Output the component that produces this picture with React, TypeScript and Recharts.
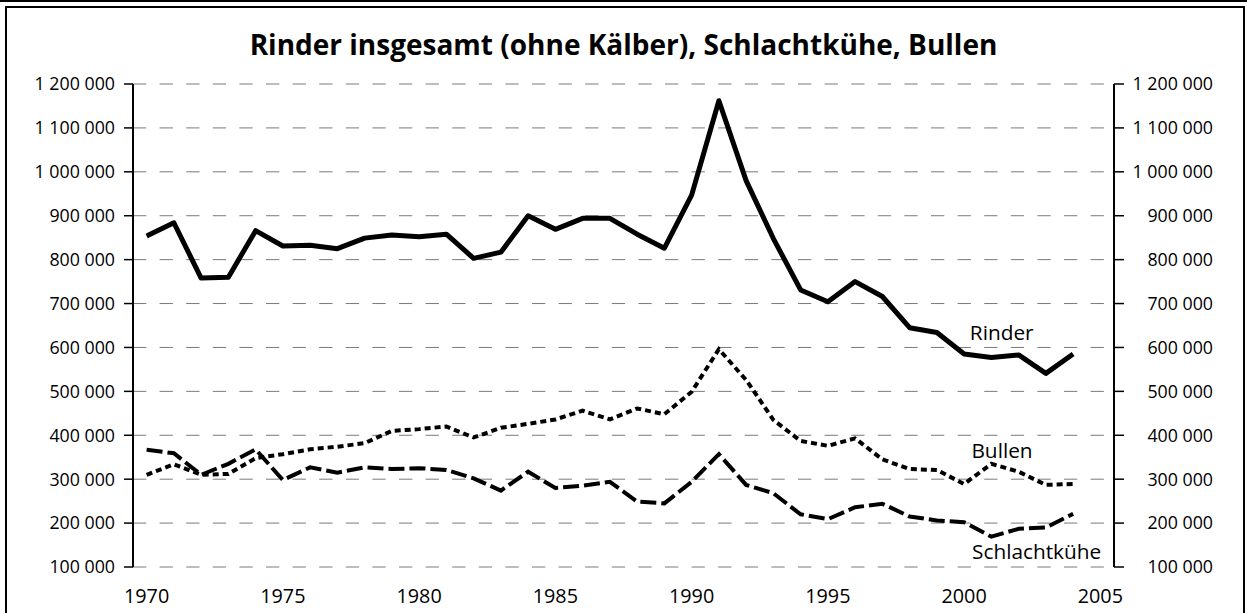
import React from 'react';
import { LineChart, Line, XAxis, YAxis, CartesianGrid, ReferenceDot } from 'recharts';

// Categories (2005 is an empty category on the axis)
const axisYears = [1970, 1971, 1972, 1973, 1974, 1975, 1976, 1977, 1978, 1979, 1980, 1981, 1982, 1983, 1984, 1985, 1986, 1987, 1988, 1989, 1990, 1991, 1992, 1993, 1994, 1995, 1996, 1997, 1998, 1999, 2000, 2001, 2002, 2003, 2004, 2005];
const dataYears = axisYears.slice(0, 35);
const xLabelTicks = [1970, 1975, 1980, 1985, 1990, 1995, 2000, 2005];
const yTicks = [100000, 200000, 300000, 400000, 500000, 600000, 700000, 800000, 900000, 1000000, 1100000, 1200000];

const rinder = [854000, 884000, 758000, 760000, 866000, 831000, 833000, 825000, 849000, 856000, 852000, 858000, 803000, 817000, 900000, 869000, 894000, 894000, 858000, 826000, 947000, 1162000, 980000, 848000, 731000, 704000, 750000, 716000, 645000, 634000, 585000, 577000, 583000, 541000, 585000];
const bullen = [310000, 334000, 310000, 312000, 348000, 357000, 368000, 374000, 382000, 410000, 414000, 420000, 395000, 417000, 426000, 436000, 456000, 436000, 461000, 448000, 499000, 596000, 526000, 435000, 387000, 376000, 393000, 345000, 323000, 321000, 289000, 335000, 317000, 287000, 289000];
const schlachtkuehe = [367000, 359000, 310000, 335000, 368000, 298000, 327000, 315000, 327000, 323000, 325000, 321000, 302000, 274000, 317000, 280000, 285000, 294000, 249000, 245000, 294000, 357000, 287000, 268000, 220000, 209000, 236000, 244000, 215000, 206000, 202000, 169000, 187000, 190000, 221000];

const title = 'Rinder insgesamt (ohne Kälber), Schlachtkühe, Bullen';
const seriesLabels = [
  { text: 'Rinder', year: 2001.38, value: 633000 },
  { text: 'Bullen', year: 2001.39, value: 366000 },
  { text: 'Schlachtkühe', year: 2002.66, value: 134000 },
];

const data = dataYears.map((y, i) => ({ year: y, rinder: rinder[i], bullen: bullen[i], kuehe: schlachtkuehe[i] }));
const boundaries = axisYears.map((y) => y - 0.5).concat([axisYears[axisYears.length - 1] + 0.5]);
const xDomain = [boundaries[0], boundaries[boundaries.length - 1]];

const FONT = 'Open Sans';
const fmt = (n: number) => String(n).replace(/\B(?=(\d{3})+(?!\d))/g, ' ');

const RightTick = (props: any) => {
  const { x, y, payload } = props;
  return (
    <text x={x + 81} y={y} dy="0.355em" textAnchor="end" fontFamily={FONT} fontSize={17.8} fill="#000">
      {fmt(payload.value)}
    </text>
  );
};

export default function App() {
  return (
    <div style={{ position: 'absolute', left: 0, top: 0, width: 1247, height: 613, overflow: 'hidden', background: '#fff' }}>
      <div style={{ position: 'absolute', left: 0, top: 0, width: 1247, height: 2, background: '#000' }} />
      <div style={{ position: 'absolute', left: 5, top: 6, width: 1240, height: 700, border: '2px solid #000', boxSizing: 'border-box' }} />
      <div style={{ position: 'absolute', left: 0, top: 29, width: 1247, textAlign: 'center', fontFamily: FONT, fontWeight: 'bold', fontSize: 28, lineHeight: '30px', color: '#000' }}>
        {title}
      </div>
      <div style={{ position: 'absolute', left: 0, top: 0 }}>
        <LineChart width={1247} height={613} data={data} margin={{ top: 84, right: 0, bottom: 0, left: 0 }}>
          <CartesianGrid xAxisId="ticks" yAxisId="left" vertical={false} stroke="#7a7a7a" strokeDasharray="13.3 13.3" />
          <XAxis
            xAxisId="ticks"
            dataKey="year"
            type="number"
            domain={xDomain}
            ticks={boundaries}
            interval={0}
            tick={false}
            tickSize={10}
            height={0}
            stroke="#000"
            axisLine={{ stroke: '#000', strokeWidth: 1.5 }}
            tickLine={{ stroke: '#000', strokeWidth: 1.5 }}
          />
          <XAxis
            xAxisId="labels"
            dataKey="year"
            type="number"
            domain={xDomain}
            ticks={xLabelTicks}
            interval={0}
            axisLine={false}
            tickLine={false}
            tickSize={0}
            tickMargin={22}
            height={46}
            tick={{ fontFamily: FONT, fontSize: 19.8, fill: '#000' }}
          />
          <YAxis
            yAxisId="left"
            type="number"
            domain={[100000, 1200000]}
            ticks={yTicks}
            interval={0}
            allowDataOverflow
            width={133}
            tickSize={9}
            tickMargin={9}
            tickFormatter={fmt}
            axisLine={{ stroke: '#000', strokeWidth: 2 }}
            tickLine={{ stroke: '#000', strokeWidth: 1.5 }}
            tick={{ fontFamily: FONT, fontSize: 17.8, fill: '#000' }}
          />
          <YAxis
            yAxisId="right"
            orientation="right"
            type="number"
            domain={[100000, 1200000]}
            ticks={yTicks}
            interval={0}
            allowDataOverflow
            width={133}
            tickSize={10}
            tickMargin={8}
            axisLine={{ stroke: '#000', strokeWidth: 2 }}
            tickLine={{ stroke: '#000', strokeWidth: 1.5 }}
            tick={<RightTick />}
          />
          <Line xAxisId="ticks" yAxisId="left" type="linear" dataKey="rinder" stroke="#000" strokeWidth={5} dot={false} isAnimationActive={false} strokeLinejoin="round" />
          <Line xAxisId="ticks" yAxisId="left" type="linear" dataKey="bullen" stroke="#000" strokeWidth={4} strokeDasharray="6 4" dot={false} isAnimationActive={false} />
          <Line xAxisId="ticks" yAxisId="left" type="linear" dataKey="kuehe" stroke="#000" strokeWidth={4} strokeDasharray="16 5" dot={false} isAnimationActive={false} />
          {seriesLabels.map((l) => (
            <ReferenceDot
              key={l.text}
              xAxisId="ticks"
              yAxisId="left"
              x={l.year}
              y={l.value}
              r={0}
              stroke="none"
              fill="none"
              ifOverflow="visible"
              label={{ value: l.text, position: 'center', fontFamily: FONT, fontSize: 20.8, fill: '#000' }}
            />
          ))}
        </LineChart>
      </div>
    </div>
  );
}
